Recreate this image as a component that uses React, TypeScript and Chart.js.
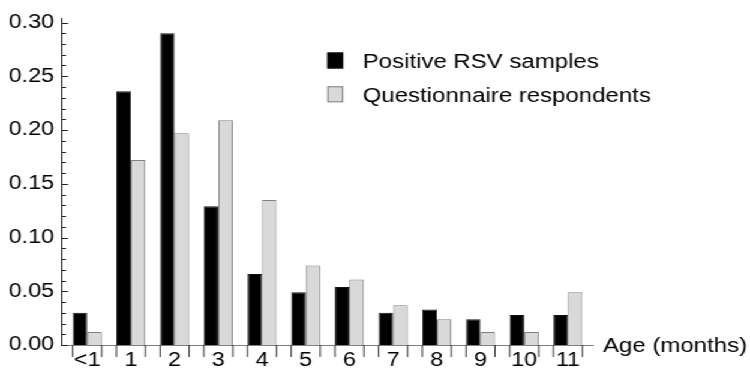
import React, { useEffect, useRef } from "react";
import { Chart, registerables } from "chart.js";

Chart.register(...registerables);

const categories = ["<1", "1", "2", "3", "4", "5", "6", "7", "8", "9", "10", "11"];
const positiveRSV = [0.030, 0.236, 0.290, 0.129, 0.066, 0.049, 0.054, 0.030, 0.033, 0.024, 0.028, 0.028];
const questionnaire = [0.012, 0.172, 0.197, 0.209, 0.135, 0.074, 0.061, 0.037, 0.024, 0.012, 0.012, 0.049];
const yTicks = [0, 0.05, 0.1, 0.15, 0.2, 0.25, 0.3];
const seriesLabels = ["Positive RSV samples", "Questionnaire respondents"];
const xTitle = "Age (months)";

const SX = 1.2; // horizontal stretch of the reference figure
const W = 750 / SX;
const H = 370;
const FONT = "'Liberation Sans', Arial, Helvetica, sans-serif";
const BLACK = "#000000";
const GREY_FILL = "#d9d9d9";
const GREY_EDGE = "#808080";

const decorPlugin = {
  id: "decor",
  afterDraw(chart: any) {
    const ctx = chart.ctx as CanvasRenderingContext2D;
    const { left, bottom } = chart.chartArea;
    const yScale = chart.scales.y;
    ctx.save();
    // y-axis inward tick marks (major every 0.05, minor every 0.01)
    ctx.strokeStyle = "#222";
    ctx.lineWidth = 1;
    ctx.beginPath();
    for (let i = 0; i <= 30; i++) {
      const py = Math.round(yScale.getPixelForValue(i / 100)) + 0.5;
      const len = i % 5 === 0 ? 6 / SX : 4 / SX;
      ctx.moveTo(left, py);
      ctx.lineTo(left + len, py);
    }
    ctx.stroke();
    // x-axis tick marks at the edges of each bar group
    const m0 = chart.getDatasetMeta(0);
    const m1 = chart.getDatasetMeta(1);
    ctx.strokeStyle = "#333";
    ctx.beginPath();
    m0.data.forEach((bar: any, i: number) => {
      const a = bar.getProps(["x", "width"], true);
      const b = m1.data[i].getProps(["x", "width"], true);
      const l = a.x - a.width / 2;
      const r = b.x + b.width / 2;
      ctx.moveTo(l, bottom);
      ctx.lineTo(l, bottom + 12);
      ctx.moveTo(r, bottom);
      ctx.lineTo(r, bottom + 12);
    });
    ctx.stroke();
    // legend
    const ds = chart.data.datasets;
    const lx = 327.3 / SX;
    const boxW = 16 / SX;
    const rows = [52.5, 86.3];
    ctx.font = `20px ${FONT}`;
    ctx.textAlign = "left";
    ctx.textBaseline = "alphabetic";
    ds.forEach((d: any, i: number) => {
      const ty = rows[i];
      ctx.fillStyle = d.backgroundColor;
      ctx.fillRect(lx, ty, boxW, 16);
      ctx.strokeStyle = d.borderColor;
      ctx.lineWidth = 1;
      ctx.strokeRect(lx + 0.5, ty + 0.5, boxW - 1, 15);
      ctx.fillStyle = "#000";
      ctx.fillText(d.label, 362.7 / SX, ty + 15.5);
    });
    // x-axis title to the right of the axis
    ctx.fillStyle = "#000";
    ctx.fillText(xTitle, 603 / SX, 351.8);
    ctx.restore();
  },
};

export default function App() {
  const ref = useRef<HTMLCanvasElement | null>(null);

  useEffect(() => {
    document.body.style.margin = "0";
    document.body.style.overflow = "hidden";
    const canvas = ref.current;
    if (!canvas) return;
    const chart = new Chart(canvas, {
      type: "bar",
      data: {
        datasets: [
          {
            label: seriesLabels[0],
            data: positiveRSV.map((v, i) => ({ x: i, y: v })),
            backgroundColor: BLACK,
            borderColor: "#111111",
            borderWidth: 1,
          },
          {
            label: seriesLabels[1],
            data: questionnaire.map((v, i) => ({ x: i, y: v })),
            backgroundColor: GREY_FILL,
            borderColor: GREY_EDGE,
            borderWidth: 1,
          },
        ],
      },
      options: {
        responsive: false,
        animation: false,
        events: [],
        categoryPercentage: 29 / 43.7,
        barPercentage: 1.0,
        layout: { padding: { top: 13, right: W - 593 / SX, left: 0, bottom: 0 } },
        plugins: {
          legend: { display: false },
          tooltip: { enabled: false },
          title: { display: false },
        },
        scales: {
          x: {
            type: "linear",
            min: -0.577,
            max: 11.574,
            offset: false,
            grid: { display: false, drawTicks: false },
            border: { display: true, color: "#808080", width: 1 },
            afterBuildTicks: (scale: any) => {
              scale.ticks = categories.map((_, i) => ({ value: i }));
            },
            afterFit: (scale: any) => {
              scale.height = 25;
            },
            ticks: {
              autoSkip: false,
              maxRotation: 0,
              padding: 4,
              color: "#000",
              font: { family: FONT, size: 19.5 },
              callback: (value: any) => categories[Math.round(Number(value))] ?? "",
            },
          },
          y: {
            type: "linear",
            min: 0,
            max: 0.304,
            grid: { display: false, drawTicks: false },
            border: { display: true, color: "#111", width: 1 },
            afterBuildTicks: (scale: any) => {
              scale.ticks = yTicks.map((v) => ({ value: v }));
            },
            afterFit: (scale: any) => {
              scale.width = 62 / SX;
            },
            ticks: {
              padding: 6.5,
              color: "#000",
              font: { family: FONT, size: 19.5 },
              callback: (value: any) => Number(value).toFixed(2),
            },
          },
        },
      } as any,
      plugins: [decorPlugin],
    });
    return () => chart.destroy();
  }, []);

  return (
    <div
      style={{
        position: "absolute",
        left: 0,
        top: 0,
        width: W,
        height: H,
        transform: `scaleX(${SX})`,
        transformOrigin: "0 0",
        background: "#fff",
      }}
    >
      <canvas ref={ref} width={W} height={H} />
    </div>
  );
}
